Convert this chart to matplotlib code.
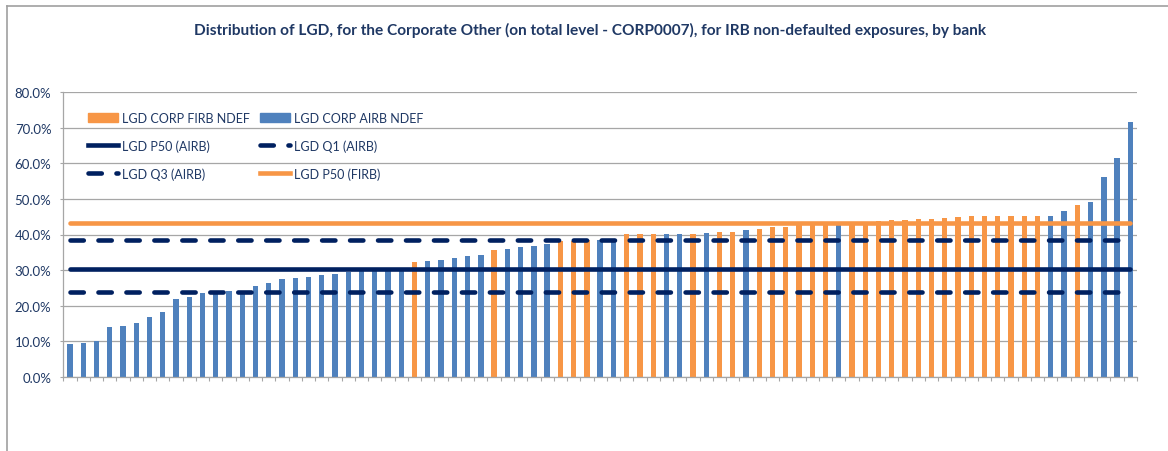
import numpy as np
import matplotlib
matplotlib.use("Agg")
import matplotlib.pyplot as plt
from matplotlib.patches import Patch
from matplotlib.lines import Line2D

# LGD per bank (%), sorted ascending
lgd = [9.2, 9.4, 10.0, 13.9, 14.4, 15.0, 16.8, 18.2, 21.9, 22.5,
       23.6, 24.0, 24.2, 24.1, 25.6, 26.4, 27.6, 27.8, 28.0, 28.6,
       28.8, 29.4, 30.0, 30.1, 30.2, 30.4, 32.2, 32.6, 32.9, 33.3,
       34.0, 34.2, 35.6, 36.0, 36.4, 36.8, 37.3, 38.2, 38.2, 38.5,
       38.5, 38.6, 40.1, 40.1, 40.1, 40.1, 40.1, 40.1, 40.4, 40.6,
       40.6, 41.4, 41.5, 42.0, 42.2, 42.6, 42.7, 42.8, 42.8, 42.9,
       43.0, 43.9, 44.1, 44.1, 44.3, 44.3, 44.6, 44.8, 45.1, 45.1,
       45.1, 45.1, 45.1, 45.3, 45.3, 46.6, 48.4, 49.1, 56.3, 61.4,
       71.7]
# approach of each bank: A = AIRB, F = FIRB
approach = ("AAAAAAAAAAAAAAAAAAAAAAAAAA" "F" "AAAAA" "F" "AAAA" "FFF" "AA"
            "FFF" "AA" "F" "A" "FF" "A" "FFFFFF" "A" "FFFFFFFFFFFFFFF"
            "AA" "F" "AAAA")
assert len(approach) == len(lgd)

p50_airb = 30.3
q1_airb = 23.9
q3_airb = 38.5
p50_firb = 43.15

yticks = [0, 10, 20, 30, 40, 50, 60, 70, 80]
title = ("Distribution of LGD, for the Corporate Other (on total level - CORP0007), "
         "for IRB non-defaulted exposures, by bank")

BLUE = "#4F81BD"
ORANGE = "#F79646"
NAVY = "#002060"
TEXT = "#1F3864"
GRID = "#A6A6A6"

plt.rcParams["font.family"] = ["Lato", "DejaVu Sans"]

W, H = 1168, 452
fig = plt.figure(figsize=(W / 100, H / 100), dpi=100)
ax = fig.add_axes([63.3 / W, 1 - 377.7 / H, (1137 - 63.3) / W, (377.7 - 93.3) / H])

n = len(lgd)
x = np.arange(n)
colors = [ORANGE if a == "F" else BLUE for a in approach]
ax.bar(x, lgd, width=0.4, color=colors, zorder=2)

dash = (0, (2.9, 3.2))
ax.plot(x, [p50_firb] * n, color=ORANGE, lw=3.3, solid_capstyle="round", zorder=3)
ax.plot(x, [q3_airb] * n, color=NAVY, lw=3.3, ls=dash, dash_capstyle="round", zorder=3)
ax.plot(x, [p50_airb] * n, color=NAVY, lw=3.3, solid_capstyle="round", zorder=3)
ax.plot(x, [q1_airb] * n, color=NAVY, lw=3.3, ls=dash, dash_capstyle="round", zorder=3)

ax.set_xlim(-0.5, n - 0.5)
ax.set_ylim(0, 80)
ax.set_yticks(yticks)
ax.set_yticklabels([f"{v:.1f}%" for v in yticks])
ax.set_xticks(np.arange(-0.5, n))
ax.set_xticklabels([])
ax.tick_params(axis="y", length=2.5, width=0.8, color=GRID, labelsize=9.5,
               labelcolor=TEXT, pad=6)
ax.tick_params(axis="x", length=3, width=0.8, color=GRID)
ax.grid(axis="y", color=GRID, lw=0.9, zorder=0)
ax.set_axisbelow(True)
for side in ["top", "right"]:
    ax.spines[side].set_visible(False)
for side in ["left", "bottom"]:
    ax.spines[side].set_color(GRID)
    ax.spines[side].set_linewidth(0.9)

h_firb = Patch(color=ORANGE)
h_airb = Patch(color=BLUE)
h_p50a = Line2D([], [], color=NAVY, lw=3.3)
h_q1 = Line2D([], [], color=NAVY, lw=3.3, ls=dash, dash_capstyle="round")
h_q3 = Line2D([], [], color=NAVY, lw=3.3, ls=dash, dash_capstyle="round")
h_p50f = Line2D([], [], color=ORANGE, lw=3.3)

leg_kw = dict(loc="upper left", frameon=False, fontsize=9, handlelength=2.4,
              handleheight=0.8, handletextpad=0.32, labelspacing=1.22,
              borderpad=0, borderaxespad=0, labelcolor=TEXT,
              bbox_transform=fig.transFigure)
leg1 = ax.legend([h_firb, h_p50a, h_q3],
                 ["LGD CORP FIRB NDEF", "LGD P50 (AIRB)", "LGD Q3 (AIRB)"],
                 bbox_to_anchor=(88 / W, 1 - 113 / H), **leg_kw)
ax.add_artist(leg1)
ax.legend([h_airb, h_q1, h_p50f],
          ["LGD CORP AIRB NDEF", "LGD Q1 (AIRB)", "LGD P50 (FIRB)"],
          bbox_to_anchor=(260 / W, 1 - 113 / H), **leg_kw)

fig.text(590 / W, 1 - 30 / H, title, ha="center", va="center",
         fontsize=11.1, fontweight="bold", color=TEXT)

# chart frame, top and left edges
fig.add_artist(Line2D([6.5 / W, 1], [1 - 6.5 / H] * 2, transform=fig.transFigure,
                      color="#A0A0A0", lw=1.2))
fig.add_artist(Line2D([6.5 / W] * 2, [0, 1 - 6.5 / H], transform=fig.transFigure,
                      color="#A0A0A0", lw=1.2))

fig.savefig("out.png", dpi=100, facecolor="white")
